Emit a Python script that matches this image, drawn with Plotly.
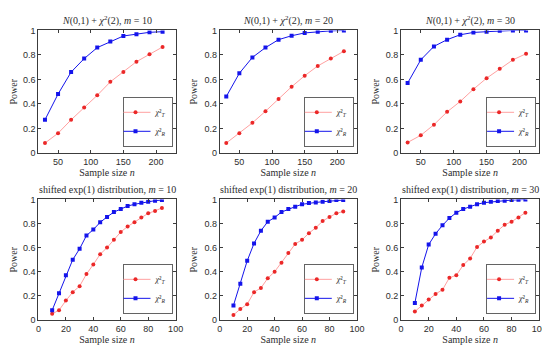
import plotly.graph_objects as go

# ---------------- data ----------------
n_top = [30, 50, 70, 90, 110, 130, 150, 170, 190, 210]
n_bot = [10, 15, 20, 25, 30, 35, 40, 45, 50, 55, 60, 65, 70, 75, 80, 85, 90]

# top row: N(0,1)+chi2(2)
top_T_m10 = [0.08, 0.16, 0.27, 0.37, 0.47, 0.58, 0.66, 0.745, 0.805, 0.865]
top_R_m10 = [0.27, 0.48, 0.66, 0.77, 0.86, 0.91, 0.955, 0.97, 0.985, 0.99]
top_T_m20 = [0.08, 0.16, 0.245, 0.34, 0.44, 0.54, 0.63, 0.71, 0.77, 0.83]
top_R_m20 = [0.46, 0.65, 0.78, 0.86, 0.925, 0.957, 0.98, 0.99, 0.997, 1.0]
top_T_m30 = [0.085, 0.143, 0.23, 0.335, 0.42, 0.52, 0.61, 0.687, 0.76, 0.81]
top_R_m30 = [0.57, 0.76, 0.87, 0.925, 0.965, 0.984, 0.99, 0.997, 1.0, 1.0]

# bottom row: shifted exp(1)
bot_T_m10 = [0.05, 0.08, 0.16, 0.23, 0.28, 0.38, 0.46, 0.545, 0.60, 0.665, 0.73, 0.775, 0.81, 0.85, 0.885, 0.905, 0.93]
bot_R_m10 = [0.08, 0.22, 0.37, 0.50, 0.59, 0.70, 0.75, 0.81, 0.855, 0.895, 0.92, 0.945, 0.96, 0.973, 0.98, 0.99, 0.995]
bot_T_m20 = [0.04, 0.09, 0.13, 0.23, 0.265, 0.345, 0.40, 0.475, 0.555, 0.63, 0.665, 0.72, 0.765, 0.82, 0.855, 0.885, 0.90]
bot_R_m20 = [0.12, 0.30, 0.49, 0.635, 0.74, 0.815, 0.85, 0.895, 0.92, 0.94, 0.96, 0.97, 0.975, 0.981, 0.987, 0.995, 0.995]
bot_T_m30 = [0.07, 0.12, 0.17, 0.215, 0.25, 0.35, 0.37, 0.455, 0.51, 0.605, 0.65, 0.685, 0.74, 0.79, 0.815, 0.85, 0.89]
bot_R_m30 = [0.14, 0.435, 0.625, 0.715, 0.785, 0.845, 0.89, 0.92, 0.94, 0.96, 0.973, 0.98, 0.987, 0.99, 0.995, 0.997, 1.0]

titles = [
    "<i>N</i>(0,1) + <i>χ</i><sup>2</sup>(2), <i>m</i> = 10",
    "<i>N</i>(0,1) + <i>χ</i><sup>2</sup>(2), <i>m</i> = 20",
    "<i>N</i>(0,1) + <i>χ</i><sup>2</sup>(2), <i>m</i> = 30",
    "shifted exp(1) distribution, <i>m</i> = 10",
    "shifted exp(1) distribution, <i>m</i> = 20",
    "shifted exp(1) distribution, <i>m</i> = 30",
]
name_T = "<i>χ</i>²<sub><i>T</i></sub>"
name_R = "<i>χ</i>²<sub><i>R</i></sub>"

y_ticks = [0, 0.2, 0.4, 0.6, 0.8, 1]
y_ticktext = ["0", "0.2", "0.4", "0.6", "0.8", "1"]
x_ticks_top = [50, 100, 150, 200]
x_ticks_bot = [0, 20, 40, 60, 80, 100]

panels = [
    (n_top, top_T_m10, top_R_m10),
    (n_top, top_T_m20, top_R_m20),
    (n_top, top_T_m30, top_R_m30),
    (n_bot, bot_T_m10, bot_R_m10),
    (n_bot, bot_T_m20, bot_R_m20),
    (n_bot, bot_T_m30, bot_R_m30),
]

# ---------------- layout geometry ----------------
W, H = 550, 346
col_px = [(28, 168), (213, 353), (398, 539)]
row_px = [(18, 144), (192, 316)]

SERIF = "Liberation Serif"
SANS = "Liberation Sans"
TXT = "rgb(45,45,45)"
RED_LINE = "rgb(255,160,160)"
RED_MK = "rgb(235,40,40)"
BLUE = "rgb(20,20,235)"
AX = "rgb(60,60,60)"

fig = go.Figure()
layout = dict(
    width=W, height=H,
    margin=dict(l=0, r=0, t=0, b=0),
    paper_bgcolor="white", plot_bgcolor="white",
    font=dict(family=SERIF, size=10, color=TXT, weight="normal"),
    annotations=[],
)

for i, (xs, yT, yR) in enumerate(panels):
    r, c = divmod(i, 3)
    k = i + 1
    xa = "x" if k == 1 else f"x{k}"
    ya = "y" if k == 1 else f"y{k}"
    lg = "legend" if k == 1 else f"legend{k}"
    fig.add_trace(go.Scatter(
        x=xs, y=yT, name=name_T, mode="lines+markers",
        line=dict(color=RED_LINE, width=1),
        marker=dict(color=RED_MK, size=4, symbol="circle"),
        xaxis=xa, yaxis=ya, legend=lg))
    fig.add_trace(go.Scatter(
        x=xs, y=yR, name=name_R, mode="lines+markers",
        line=dict(color=BLUE, width=1),
        marker=dict(color=BLUE, size=4, symbol="square"),
        xaxis=xa, yaxis=ya, legend=lg))

    x0, x1 = col_px[c]
    y0, y1 = row_px[r]
    xd = [x0 / W, x1 / W]
    yd = [1 - y1 / H, 1 - y0 / H]
    if r == 0:
        xr, xt = [20, 230], x_ticks_top
    else:
        xr, xt = [0, 100], x_ticks_bot
    axcommon = dict(showline=True, mirror="ticks", linecolor=AX, linewidth=1,
                    ticks="inside", ticklen=3, tickcolor=AX, showgrid=False,
                    zeroline=False,
                    tickfont=dict(family=SANS, size=9, color=TXT, weight="normal"))
    layout["xaxis" if k == 1 else f"xaxis{k}"] = dict(
        domain=xd, range=xr, tickvals=xt, anchor=ya,
        title=dict(text="Sample size <i>n</i>",
                   font=dict(family=SERIF, size=10, color=TXT, weight="normal"), standoff=3),
        **axcommon)
    layout["yaxis" if k == 1 else f"yaxis{k}"] = dict(
        domain=yd, range=[0, 1], tickvals=y_ticks, ticktext=y_ticktext, anchor=xa,
        title=dict(text="Power", font=dict(family=SERIF, size=10, color=TXT, weight="normal"),
                   standoff=4),
        **axcommon)
    layout[lg] = dict(
        x=(x1 - 3) / W, y=1 - (y1 - 6) / H, xanchor="right", yanchor="bottom",
        bgcolor="white", bordercolor=AX, borderwidth=0.8,
        font=dict(family=SERIF, size=8, color=TXT, weight="normal"), itemwidth=30,
        tracegroupgap=0, itemsizing="trace", indentation=-8,
    )
    layout["annotations"].append(dict(
        text=titles[i], x=(x0 + x1) / 2 / W, y=1 - (y0 - 2) / H,
        xref="paper", yref="paper", xanchor="center", yanchor="bottom",
        showarrow=False, font=dict(family=SERIF, size=10, color=TXT, weight="normal")))

fig.update_layout(**layout)
fig.write_html("out.html")
